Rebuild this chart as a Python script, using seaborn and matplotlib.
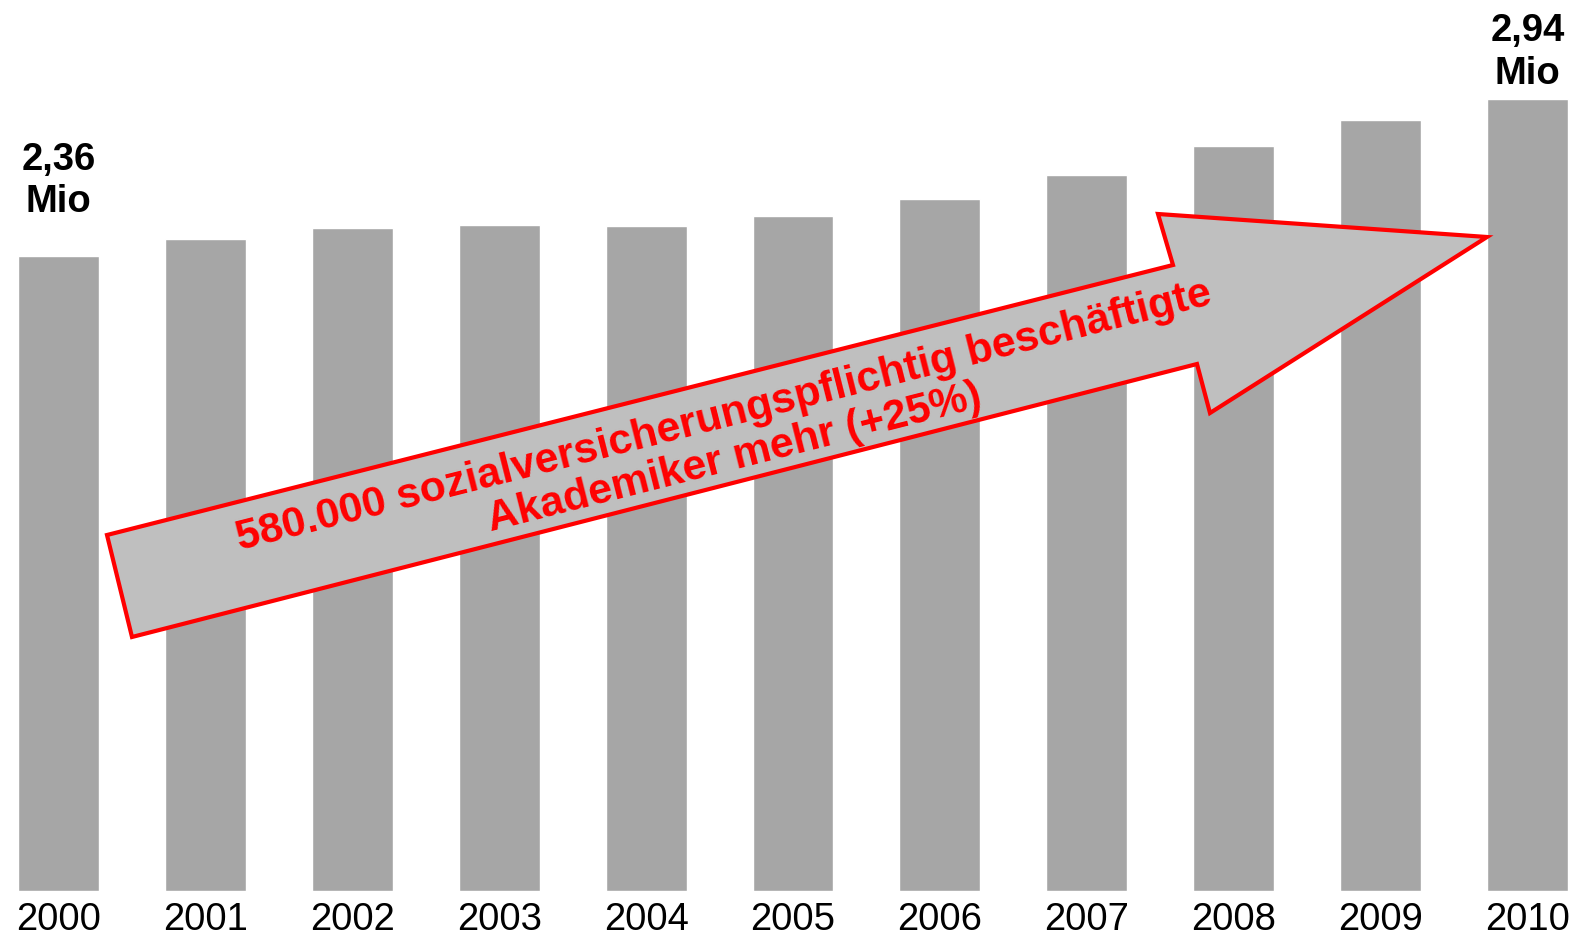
import matplotlib
matplotlib.use("Agg")
import pandas as pd
import seaborn as sns
import matplotlib.pyplot as plt
from matplotlib.patches import Polygon

# data (million employees with academic degree)
years = ["2000", "2001", "2002", "2003", "2004", "2005",
         "2006", "2007", "2008", "2009", "2010"]
values = [2.36, 2.424, 2.465, 2.476, 2.473, 2.510,
          2.570, 2.660, 2.769, 2.866, 2.945]
end_labels = {0: "2,36\nMio", 10: "2,94\nMio"}
arrow_text = "580.000 sozialversicherungspflichtig beschäftigte\nAkademiker mehr (+25%)"

# arrow outline in figure pixels (annotation shape)
arrow_px = [(107, 535), (1173, 265), (1158, 214), (1487, 237),
            (1210, 413), (1197, 364), (132, 637)]

W, H = 1581, 936
df = pd.DataFrame({"year": years, "value": values})

sns.set_style("white")
plt.rcParams["font.family"] = ["Liberation Sans", "DejaVu Sans"]

fig = plt.figure(figsize=(W / 100, H / 100), dpi=100)
ax = fig.add_axes([0, 45 / H, 1, 891 / H])

sns.barplot(data=df, x="year", y="value", color="#a6a6a6", saturation=1,
            width=0.551, ax=ax)

step = 146.9
ax.set_xlim(-58.5 / step, (W - 58.5) / step)
ax.set_ylim(0, 891 * values[0] / 635)
sns.despine(ax=ax, left=True, bottom=True)
ax.set_yticks([])
ax.set_xlabel("")
ax.set_ylabel("")
ax.tick_params(axis="x", length=0, pad=8, labelsize=27.5, colors="black")

offsets = {0: 54, 10: 33.5}
for i, txt in end_labels.items():
    ax.annotate(txt, xy=(i, values[i]), xytext=(0, offsets[i]),
                textcoords="offset points", ha="center", va="center",
                fontsize=27.5, fontweight="bold", linespacing=1.25,
                color="black")

poly = Polygon([(x / W, 1 - y / H) for x, y in arrow_px], closed=True,
               facecolor="#bfbfbf", edgecolor="#ff0000", linewidth=3,
               transform=fig.transFigure, zorder=5)
fig.patches.append(poly)

fig.text(729 / W, 1 - 437 / H, arrow_text, rotation=14.2, rotation_mode="anchor",
         ha="center", va="center", multialignment="center", color="#ff0000",
         fontsize=30.7, fontweight="bold", linespacing=1.1, zorder=6)

fig.savefig("out.png", dpi=100)
